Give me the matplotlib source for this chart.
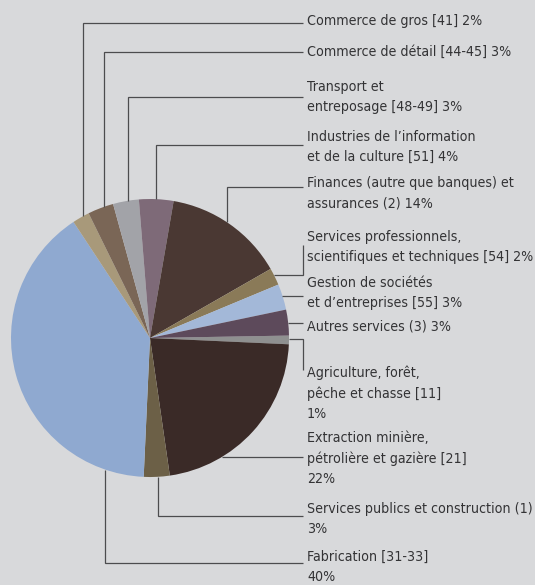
import numpy as np
import matplotlib
matplotlib.use("Agg")
import matplotlib.pyplot as plt
from matplotlib import font_manager

# Répartition par secteur (en %), dans l'ordre des aiguilles d'une montre
noms = [
    "Agriculture, forêt,\npêche et chasse [11]",
    "Extraction minière,\npétrolière et gazière [21]",
    "Services publics et construction (1)",
    "Fabrication [31-33]",
    "Commerce de gros [41]",
    "Commerce de détail [44-45]",
    "Transport et\nentreposage [48-49]",
    "Industries de l’information\net de la culture [51]",
    "Finances (autre que banques) et\nassurances (2)",
    "Services professionnels,\nscientifiques et techniques [54]",
    "Gestion de sociétés\net d’entreprises [55]",
    "Autres services (3)",
]
valeurs = [1, 22, 3, 40, 2, 3, 3, 4, 14, 2, 3, 3]
sep_pct = ["\n", "\n", "\n", "\n", " ", " ", " ", " ", " ", " ", " ", " "]
couleurs = [
    "#8f9090", "#3a2a27", "#6c6047", "#8fa9d0", "#a8997a", "#7a6656",
    "#a2a3a8", "#7e6a78", "#4a3833", "#8a7a58", "#a3b8d8", "#5d4a5b",
]

# Mise en page (pixels de l'image, origine en haut à gauche)
W, H = 535, 585
CX, CY, R = 150, 338, 139
X_TEXTE = 307
X_FIN = 303
INTERLIGNE = 20.3
LARGEUR_REF = 174  # largeur de "Commerce de gros [41] 2%" dans l'original
angle_ancre = [-0.4, -58.9, -86.7, -108.9, 118.8, 109.3, 99.1, 87.5, 56.4, 26.9, 17.6, 6.2]
type_ligne = ["crochet", "h", "v", "v", "v", "v", "v", "v", "v", "crochet", "h", "h"]
y_ligne = [370, None, 516, 563, 22.5, 52, 97, 145, 187, 245, None, None]
y_texte = [373, 438, 509, 557, 21, 52, 87, 137, 183, 237, 283, 326]

FOND = "#d8d9db"
TEXTE = "#333335"
TRAIT = "#4c4c4e"

# police étroite si disponible
condensee = [f for f in font_manager.fontManager.ttflist
             if f.name == "DejaVu Sans" and f.stretch in ("condensed", "semi-condensed")
             and f.weight in (400, "normal", "regular")]
if condensee:
    police = dict(family="DejaVu Sans", stretch="condensed")
else:
    police = dict(family="Lato")


def py(y):
    return H - y


fig = plt.figure(figsize=(W / 100, H / 100), dpi=100, facecolor=FOND)
ax = fig.add_axes([0, 0, 1, 1])
ax.set_facecolor(FOND)

# taille de police ajustée à la largeur mesurée sur l'original
essai = fig.text(0, 0, f"{noms[4]} {valeurs[4]}%", fontsize=11, **police)
rend = fig.canvas.get_renderer()
larg = essai.get_window_extent(rend).width
essai.remove()
taille = min(11.5, 11 * LARGEUR_REF / larg)

ax.pie(valeurs, colors=couleurs, startangle=1, counterclock=False,
       center=(CX, py(CY)), radius=R,
       wedgeprops=dict(linewidth=0.3, edgecolor="none"))

ax.set_xlim(0, W)
ax.set_ylim(0, H)
ax.set_aspect("equal")
ax.axis("off")

for i, nom in enumerate(noms):
    etiquette = f"{nom}{sep_pct[i]}{valeurs[i]}%"
    a = np.deg2rad(angle_ancre[i])
    px = CX + R * np.cos(a)
    pyy = CY - R * np.sin(a)

    if type_ligne[i] == "v":
        xs = [px, px, X_FIN]
        ys = [pyy, y_ligne[i], y_ligne[i]]
    elif type_ligne[i] == "h":
        xs = [px, X_FIN]
        ys = [pyy, pyy]
    else:
        xs = [px, X_FIN - 0.5, X_FIN - 0.5]
        ys = [pyy, pyy, y_ligne[i]]
    ax.plot(xs, [py(v) for v in ys], color=TRAIT, lw=0.9,
            solid_joinstyle="miter", solid_capstyle="butt")

    for k, ligne in enumerate(etiquette.split("\n")):
        ax.text(X_TEXTE, py(y_texte[i] + k * INTERLIGNE), ligne,
                ha="left", va="center", fontsize=taille, color=TEXTE, **police)

fig.savefig("out.png", dpi=100, facecolor=FOND)
